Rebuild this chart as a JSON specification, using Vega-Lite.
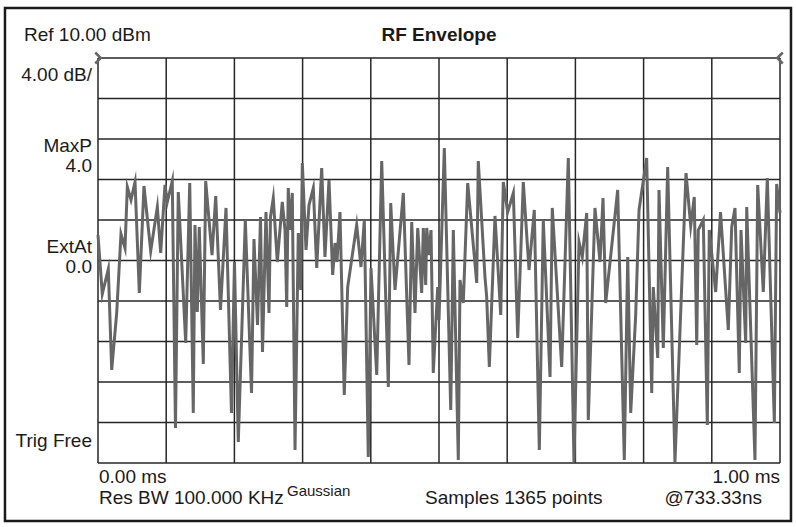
{
  "$schema": "https://vega.github.io/schema/vega-lite/v6.json",
  "width": 682,
  "height": 405,
  "autosize": {"type": "none"},
  "padding": {"left": 98, "top": 58, "right": 16, "bottom": 64},
  "background": "white",
  "config": {
    "view": {"stroke": null},
    "font": "Liberation Sans",
    "text": {"font": "Liberation Sans", "fontSize": 19, "color": "#1a1a1a"}
  },
  "datasets": {
    "vgrid": [{"gx": 0}, {"gx": 0.1}, {"gx": 0.2}, {"gx": 0.3}, {"gx": 0.4}, {"gx": 0.5}, {"gx": 0.6}, {"gx": 0.7}, {"gx": 0.8}, {"gx": 0.9}, {"gx": 1}],
    "hgrid": [{"gy": 10}, {"gy": 6}, {"gy": 2}, {"gy": -2}, {"gy": -6}, {"gy": -10}, {"gy": -14}, {"gy": -18}, {"gy": -22}, {"gy": -26}, {"gy": -30}],
    "trace": [
      {"t": 0.0, "dBm": -7.48}, {"t": 0.0063, "dBm": -13.31}, {"t": 0.0151, "dBm": -10.84}, {"t": 0.0201, "dBm": -20.81},
      {"t": 0.0274, "dBm": -15.19}, {"t": 0.0337, "dBm": -7.38}, {"t": 0.0396, "dBm": -8.77}, {"t": 0.043, "dBm": -2.74},
      {"t": 0.0484, "dBm": -4.02}, {"t": 0.0543, "dBm": -2.25}, {"t": 0.0606, "dBm": -13.21}, {"t": 0.0674, "dBm": -2.64},
      {"t": 0.0773, "dBm": -9.06}, {"t": 0.087, "dBm": -4.72}, {"t": 0.0919, "dBm": -9.26}, {"t": 0.0982, "dBm": -2.54},
      {"t": 0.1016, "dBm": -4.22}, {"t": 0.1089, "dBm": -2.15}, {"t": 0.1136, "dBm": -26.54}, {"t": 0.1177, "dBm": -3.23},
      {"t": 0.1286, "dBm": -18.15}, {"t": 0.1345, "dBm": -2.35}, {"t": 0.1397, "dBm": -25.06}, {"t": 0.1422, "dBm": -6.49},
      {"t": 0.1456, "dBm": -15.09}, {"t": 0.1485, "dBm": -6.69}, {"t": 0.1544, "dBm": -20.22}, {"t": 0.1579, "dBm": -2.15},
      {"t": 0.1672, "dBm": -9.46}, {"t": 0.1726, "dBm": -3.63}, {"t": 0.1796, "dBm": -14.89}, {"t": 0.1877, "dBm": -4.81},
      {"t": 0.1957, "dBm": -25.06}, {"t": 0.2001, "dBm": -10.15}, {"t": 0.2057, "dBm": -27.93}, {"t": 0.216, "dBm": -6.0},
      {"t": 0.2251, "dBm": -23.09}, {"t": 0.2287, "dBm": -7.88}, {"t": 0.2339, "dBm": -16.37}, {"t": 0.2383, "dBm": -5.7},
      {"t": 0.2412, "dBm": -19.04}, {"t": 0.2463, "dBm": -5.21}, {"t": 0.2507, "dBm": -15.19}, {"t": 0.2529, "dBm": -5.7},
      {"t": 0.257, "dBm": -3.83}, {"t": 0.2629, "dBm": -10.15}, {"t": 0.2702, "dBm": -4.22}, {"t": 0.2742, "dBm": -6.99},
      {"t": 0.2767, "dBm": -14.59}, {"t": 0.279, "dBm": -2.84}, {"t": 0.2815, "dBm": -6.99}, {"t": 0.2849, "dBm": -3.33},
      {"t": 0.2889, "dBm": -28.72}, {"t": 0.2937, "dBm": -7.28}, {"t": 0.2972, "dBm": -12.91}, {"t": 0.2996, "dBm": -0.37},
      {"t": 0.305, "dBm": -8.96}, {"t": 0.3094, "dBm": -4.52}, {"t": 0.3157, "dBm": -2.84}, {"t": 0.3207, "dBm": -10.74},
      {"t": 0.328, "dBm": -0.86}, {"t": 0.3328, "dBm": -9.65}, {"t": 0.3387, "dBm": -2.05}, {"t": 0.3441, "dBm": -11.43},
      {"t": 0.3475, "dBm": -8.27}, {"t": 0.3504, "dBm": -10.15}, {"t": 0.3548, "dBm": -5.21}, {"t": 0.3611, "dBm": -23.28},
      {"t": 0.3661, "dBm": -12.62}, {"t": 0.3793, "dBm": -6.49}, {"t": 0.3856, "dBm": -10.64}, {"t": 0.3905, "dBm": -6.0},
      {"t": 0.3963, "dBm": -29.41}, {"t": 0.4003, "dBm": -10.74}, {"t": 0.4087, "dBm": -21.31}, {"t": 0.416, "dBm": -0.17},
      {"t": 0.4257, "dBm": -22.49}, {"t": 0.4292, "dBm": -4.32}, {"t": 0.4355, "dBm": -12.91}, {"t": 0.4477, "dBm": -3.33},
      {"t": 0.456, "dBm": -20.32}, {"t": 0.46, "dBm": -6.2}, {"t": 0.4648, "dBm": -15.19}, {"t": 0.4688, "dBm": -6.79},
      {"t": 0.4746, "dBm": -13.21}, {"t": 0.477, "dBm": -6.79}, {"t": 0.4805, "dBm": -12.42}, {"t": 0.482, "dBm": -6.79},
      {"t": 0.4853, "dBm": -9.46}, {"t": 0.4883, "dBm": -6.99}, {"t": 0.4916, "dBm": -21.11}, {"t": 0.4981, "dBm": -12.62},
      {"t": 0.5, "dBm": -15.88}, {"t": 0.5078, "dBm": 1.11}, {"t": 0.5172, "dBm": -24.77}, {"t": 0.521, "dBm": -6.99},
      {"t": 0.5283, "dBm": -29.7}, {"t": 0.5308, "dBm": -11.93}, {"t": 0.5356, "dBm": -14.2}, {"t": 0.5421, "dBm": -2.35},
      {"t": 0.5553, "dBm": -12.22}, {"t": 0.5576, "dBm": -0.17}, {"t": 0.5674, "dBm": -11.63}, {"t": 0.5699, "dBm": -13.6},
      {"t": 0.5738, "dBm": -20.52}, {"t": 0.5821, "dBm": -5.6}, {"t": 0.5905, "dBm": -15.38}, {"t": 0.5943, "dBm": -2.25},
      {"t": 0.6007, "dBm": -5.21}, {"t": 0.609, "dBm": -3.33}, {"t": 0.6154, "dBm": -17.65}, {"t": 0.6236, "dBm": -2.25},
      {"t": 0.632, "dBm": -10.94}, {"t": 0.6397, "dBm": -5.01}, {"t": 0.6471, "dBm": -28.72}, {"t": 0.6529, "dBm": -6.0},
      {"t": 0.6628, "dBm": -21.51}, {"t": 0.6661, "dBm": -4.81}, {"t": 0.6799, "dBm": -20.52}, {"t": 0.6896, "dBm": 0.12},
      {"t": 0.6979, "dBm": -29.9}, {"t": 0.7053, "dBm": -8.17}, {"t": 0.7101, "dBm": -9.65}, {"t": 0.7166, "dBm": -5.31},
      {"t": 0.7189, "dBm": -25.75}, {"t": 0.7287, "dBm": -4.81}, {"t": 0.7361, "dBm": -10.15}, {"t": 0.7405, "dBm": -3.83},
      {"t": 0.7444, "dBm": -14.2}, {"t": 0.762, "dBm": -3.04}, {"t": 0.7717, "dBm": -29.7}, {"t": 0.7767, "dBm": -9.65},
      {"t": 0.7811, "dBm": -25.06}, {"t": 0.7884, "dBm": -15.38}, {"t": 0.7933, "dBm": -5.01}, {"t": 0.8045, "dBm": 0.12},
      {"t": 0.8119, "dBm": -23.09}, {"t": 0.8142, "dBm": -12.62}, {"t": 0.8207, "dBm": -19.63}, {"t": 0.8226, "dBm": -3.04},
      {"t": 0.8289, "dBm": -18.64}, {"t": 0.8353, "dBm": -0.77}, {"t": 0.846, "dBm": -29.9}, {"t": 0.8622, "dBm": -1.36},
      {"t": 0.8691, "dBm": -6.59}, {"t": 0.8743, "dBm": -3.73}, {"t": 0.8779, "dBm": -18.35}, {"t": 0.8802, "dBm": -6.99},
      {"t": 0.8875, "dBm": -6.0}, {"t": 0.8934, "dBm": -26.25}, {"t": 0.8963, "dBm": -6.99}, {"t": 0.9057, "dBm": -13.11},
      {"t": 0.9128, "dBm": -5.21}, {"t": 0.9242, "dBm": -16.86}, {"t": 0.9292, "dBm": -6.69}, {"t": 0.934, "dBm": -4.81},
      {"t": 0.9403, "dBm": -21.11}, {"t": 0.9428, "dBm": -6.99}, {"t": 0.9497, "dBm": -18.15}, {"t": 0.9512, "dBm": -4.72},
      {"t": 0.9633, "dBm": -29.7}, {"t": 0.9673, "dBm": -2.54}, {"t": 0.9755, "dBm": -13.11}, {"t": 0.9814, "dBm": -1.85},
      {"t": 0.9917, "dBm": -26.05}, {"t": 0.9951, "dBm": -2.44}, {"t": 1.0, "dBm": -5.31}
    ]
  },
  "layer": [
    {
      "data": {"name": "vgrid"},
      "mark": {"type": "rule", "color": "#262626", "strokeWidth": 1.5},
      "encoding": {
        "x": {"field": "gx", "type": "quantitative", "scale": {"domain": [0, 1], "nice": false, "zero": false}, "axis": null}
      }
    },
    {
      "data": {"name": "hgrid"},
      "mark": {"type": "rule", "color": "#262626", "strokeWidth": 1.5},
      "encoding": {
        "y": {"field": "gy", "type": "quantitative", "scale": {"domain": [-30, 10], "nice": false, "zero": false}, "axis": null}
      }
    },
    {
      "data": {"name": "trace"},
      "mark": {"type": "line", "color": "#666666", "strokeWidth": 3, "strokeJoin": "miter", "strokeMiterLimit": 10},
      "encoding": {
        "x": {"field": "t", "type": "quantitative", "scale": {"domain": [0, 1], "nice": false, "zero": false}, "axis": null},
        "y": {"field": "dBm", "type": "quantitative", "scale": {"domain": [-30, 10], "nice": false, "zero": false}, "axis": null}
      }
    },
    {
      "data": {"values": [{"part": "frame"}]},
      "mark": {"type": "rect", "filled": false, "stroke": "#1a1a1a", "strokeWidth": 2.5},
      "encoding": {
        "x": {"datum": -0.1364, "type": "quantitative", "scale": {"domain": [0, 1], "nice": false, "zero": false}, "axis": null},
        "x2": {"datum": 1.0161},
        "y": {"datum": 14.94, "type": "quantitative", "scale": {"domain": [-30, 10], "nice": false, "zero": false}, "axis": null},
        "y2": {"datum": -35.73}
      }
    },
    {
      "data": {"values": [{"label": "Ref 10.00 dBm"}]},
      "mark": {"type": "text", "align": "left", "baseline": "alphabetic"},
      "encoding": {
        "text": {"field": "label"},
        "x": {"datum": -0.1085, "type": "quantitative", "scale": {"domain": [0, 1], "nice": false, "zero": false}, "axis": null},
        "y": {"datum": 11.68, "type": "quantitative", "scale": {"domain": [-30, 10], "nice": false, "zero": false}, "axis": null}
      }
    },
    {
      "data": {"values": [{"label": "RF Envelope"}]},
      "mark": {"type": "text", "align": "center", "baseline": "alphabetic", "fontWeight": "bold"},
      "encoding": {
        "text": {"field": "label"},
        "x": {"datum": 0.5, "type": "quantitative", "scale": {"domain": [0, 1], "nice": false, "zero": false}, "axis": null},
        "y": {"datum": 11.68, "type": "quantitative", "scale": {"domain": [-30, 10], "nice": false, "zero": false}, "axis": null}
      }
    },
    {
      "data": {"values": [{"label": "4.00 dB/"}]},
      "mark": {"type": "text", "align": "right", "baseline": "middle"},
      "encoding": {
        "text": {"field": "label"},
        "x": {"datum": -0.0088, "type": "quantitative", "scale": {"domain": [0, 1], "nice": false, "zero": false}, "axis": null},
        "y": {"datum": 8.32, "type": "quantitative", "scale": {"domain": [-30, 10], "nice": false, "zero": false}, "axis": null}
      }
    },
    {
      "data": {"values": [{"label": "MaxP"}]},
      "mark": {"type": "text", "align": "right", "baseline": "middle"},
      "encoding": {
        "text": {"field": "label"},
        "x": {"datum": -0.0088, "type": "quantitative", "scale": {"domain": [0, 1], "nice": false, "zero": false}, "axis": null},
        "y": {"datum": 1.31, "type": "quantitative", "scale": {"domain": [-30, 10], "nice": false, "zero": false}, "axis": null}
      }
    },
    {
      "data": {"values": [{"label": "4.0"}]},
      "mark": {"type": "text", "align": "right", "baseline": "middle"},
      "encoding": {
        "text": {"field": "label"},
        "x": {"datum": -0.0088, "type": "quantitative", "scale": {"domain": [0, 1], "nice": false, "zero": false}, "axis": null},
        "y": {"datum": -0.67, "type": "quantitative", "scale": {"domain": [-30, 10], "nice": false, "zero": false}, "axis": null}
      }
    },
    {
      "data": {"values": [{"label": "ExtAt"}]},
      "mark": {"type": "text", "align": "right", "baseline": "middle"},
      "encoding": {
        "text": {"field": "label"},
        "x": {"datum": -0.0088, "type": "quantitative", "scale": {"domain": [0, 1], "nice": false, "zero": false}, "axis": null},
        "y": {"datum": -8.67, "type": "quantitative", "scale": {"domain": [-30, 10], "nice": false, "zero": false}, "axis": null}
      }
    },
    {
      "data": {"values": [{"label": "0.0"}]},
      "mark": {"type": "text", "align": "right", "baseline": "middle"},
      "encoding": {
        "text": {"field": "label"},
        "x": {"datum": -0.0088, "type": "quantitative", "scale": {"domain": [0, 1], "nice": false, "zero": false}, "axis": null},
        "y": {"datum": -10.64, "type": "quantitative", "scale": {"domain": [-30, 10], "nice": false, "zero": false}, "axis": null}
      }
    },
    {
      "data": {"values": [{"label": "Trig Free"}]},
      "mark": {"type": "text", "align": "right", "baseline": "middle"},
      "encoding": {
        "text": {"field": "label"},
        "x": {"datum": -0.0088, "type": "quantitative", "scale": {"domain": [0, 1], "nice": false, "zero": false}, "axis": null},
        "y": {"datum": -27.83, "type": "quantitative", "scale": {"domain": [-30, 10], "nice": false, "zero": false}, "axis": null}
      }
    },
    {
      "data": {"values": [{"label": "0.00 ms"}]},
      "mark": {"type": "text", "align": "left", "baseline": "alphabetic"},
      "encoding": {
        "text": {"field": "label"},
        "x": {"datum": 0.0015, "type": "quantitative", "scale": {"domain": [0, 1], "nice": false, "zero": false}, "axis": null},
        "y": {"datum": -31.98, "type": "quantitative", "scale": {"domain": [-30, 10], "nice": false, "zero": false}, "axis": null}
      }
    },
    {
      "data": {"values": [{"label": "1.00 ms"}]},
      "mark": {"type": "text", "align": "right", "baseline": "alphabetic"},
      "encoding": {
        "text": {"field": "label"},
        "x": {"datum": 1.0, "type": "quantitative", "scale": {"domain": [0, 1], "nice": false, "zero": false}, "axis": null},
        "y": {"datum": -31.98, "type": "quantitative", "scale": {"domain": [-30, 10], "nice": false, "zero": false}, "axis": null}
      }
    },
    {
      "data": {"values": [{"label": "Res BW 100.000 KHz"}]},
      "mark": {"type": "text", "align": "left", "baseline": "alphabetic"},
      "encoding": {
        "text": {"field": "label"},
        "x": {"datum": 0.0015, "type": "quantitative", "scale": {"domain": [0, 1], "nice": false, "zero": false}, "axis": null},
        "y": {"datum": -34.05, "type": "quantitative", "scale": {"domain": [-30, 10], "nice": false, "zero": false}, "axis": null}
      }
    },
    {
      "data": {"values": [{"label": "Gaussian"}]},
      "mark": {"type": "text", "align": "left", "baseline": "alphabetic", "fontSize": 15},
      "encoding": {
        "text": {"field": "label"},
        "x": {"datum": 0.2771, "type": "quantitative", "scale": {"domain": [0, 1], "nice": false, "zero": false}, "axis": null},
        "y": {"datum": -33.26, "type": "quantitative", "scale": {"domain": [-30, 10], "nice": false, "zero": false}, "axis": null}
      }
    },
    {
      "data": {"values": [{"label": "Samples 1365 points"}]},
      "mark": {"type": "text", "align": "left", "baseline": "alphabetic"},
      "encoding": {
        "text": {"field": "label"},
        "x": {"datum": 0.4795, "type": "quantitative", "scale": {"domain": [0, 1], "nice": false, "zero": false}, "axis": null},
        "y": {"datum": -34.05, "type": "quantitative", "scale": {"domain": [-30, 10], "nice": false, "zero": false}, "axis": null}
      }
    },
    {
      "data": {"values": [{"label": "@733.33ns"}]},
      "mark": {"type": "text", "align": "right", "baseline": "alphabetic"},
      "encoding": {
        "text": {"field": "label"},
        "x": {"datum": 0.9736, "type": "quantitative", "scale": {"domain": [0, 1], "nice": false, "zero": false}, "axis": null},
        "y": {"datum": -34.05, "type": "quantitative", "scale": {"domain": [-30, 10], "nice": false, "zero": false}, "axis": null}
      }
    },
    {
      "data": {"values": [{"side": "left"}]},
      "mark": {"type": "point", "shape": "M-0.5,-1L0.5,0L-0.5,1", "filled": false, "stroke": "#666666", "strokeWidth": 2.5, "size": 121, "opacity": 1},
      "encoding": {
        "x": {"datum": 0, "type": "quantitative", "scale": {"domain": [0, 1], "nice": false, "zero": false}, "axis": null},
        "y": {"datum": 10, "type": "quantitative", "scale": {"domain": [-30, 10], "nice": false, "zero": false}, "axis": null}
      }
    },
    {
      "data": {"values": [{"side": "right"}]},
      "mark": {"type": "point", "shape": "M0.5,-1L-0.5,0L0.5,1", "filled": false, "stroke": "#666666", "strokeWidth": 2.5, "size": 121, "opacity": 1},
      "encoding": {
        "x": {"datum": 1, "type": "quantitative", "scale": {"domain": [0, 1], "nice": false, "zero": false}, "axis": null},
        "y": {"datum": 10, "type": "quantitative", "scale": {"domain": [-30, 10], "nice": false, "zero": false}, "axis": null}
      }
    }
  ]
}
